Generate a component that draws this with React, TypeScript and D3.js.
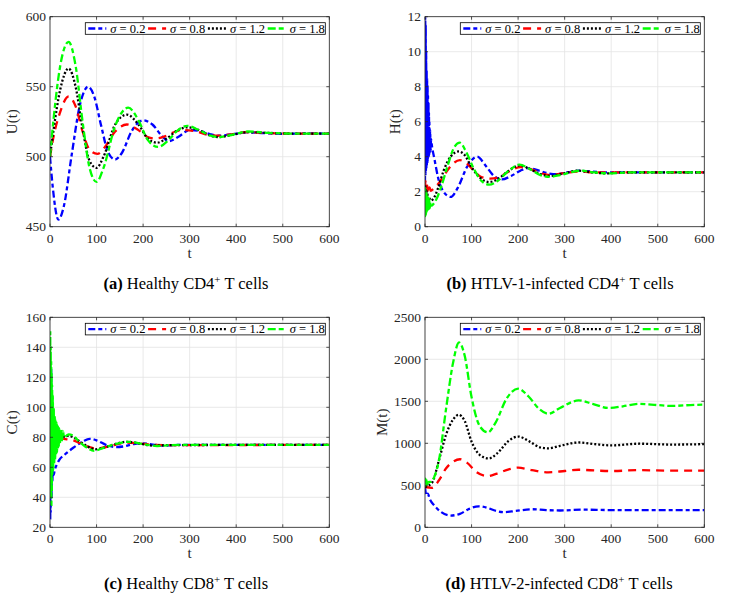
import * as React from "react";
import * as d3 from "d3";

type Pt = [number, number];

// sigma values for the four runs
const SIGMAS = ["0.2", "0.8", "1.2", "1.8"];
const X_TICKS = [0, 100, 200, 300, 400, 500, 600];

// (a) U(t)
const U_02: Pt[] = [[0, 500], [6, 478], [18, 455], [30, 465], [46, 500], [65, 538], [82, 550], [95, 543], [110, 522], [125, 503], [140, 498], [155, 503], [175, 518], [200, 526], [220, 523], [240, 515], [255, 511], [275, 514], [300, 519], [320, 518.5], [345, 516], [365, 515], [400, 516.5], [425, 517.5], [460, 516.8], [500, 516.3], [550, 516.6], [600, 516.5]];
const U_08: Pt[] = [[0, 500], [8, 515], [20, 530], [40, 543], [55, 536], [70, 518], [85, 505], [102, 502], [118, 507], [140, 518], [165, 523], [190, 519], [210, 514], [228, 513], [250, 515], [270, 518], [290, 519], [315, 518], [340, 515.5], [360, 515], [390, 516], [420, 517.5], [460, 517], [520, 516.5], [600, 516.5]];
const U_12: Pt[] = [[0, 500], [8, 520], [22, 548], [40, 563], [55, 550], [70, 520], [85, 497], [100, 492], [115, 500], [140, 523], [165, 530], [190, 523], [210, 513], [230, 510], [250, 513], [275, 519], [295, 521], [320, 519], [345, 515], [362, 514], [390, 515.5], [425, 517.5], [470, 517], [520, 516.5], [600, 516.5]];
const U_18: Pt[] = [[0, 500], [8, 528], [22, 565], [40, 582], [55, 565], [70, 525], [85, 492], [100, 482], [115, 492], [140, 522], [168, 535], [190, 526], [210, 512], [232, 507], [255, 512], [275, 519], [295, 522], [320, 519], [345, 515], [362, 514], [390, 515.5], [425, 518], [470, 517], [520, 516.5], [600, 516.5]];

// (b) H(t)
const H_02: Pt[] = [[0, 2.5], [0.5, 12], [1, 3], [1.5, 11.5], [2, 3.2], [2.5, 10], [3, 3.4], [3.5, 9], [4, 3.5], [4.5, 8.4], [5, 3.6], [5.5, 8], [6, 3.8], [6.5, 7.5], [7, 3.9], [7.5, 7], [8, 4], [8.5, 6.5], [9, 4.1], [9.5, 6], [10, 4.2], [11, 5.5], [12, 4.3], [13, 5], [15, 4.6], [20, 3.9], [30, 2.6], [40, 2], [55, 1.7], [70, 2.2], [90, 3.4], [112, 4], [130, 3.5], [148, 2.9], [165, 2.7], [185, 2.9], [205, 3.2], [222, 3.35], [245, 3.2], [265, 3.05], [282, 3.0], [305, 3.1], [330, 3.2], [360, 3.15], [400, 3.1], [450, 3.1], [600, 3.1]];
const H_08: Pt[] = [[0, 2.2], [1, 2.6], [2, 2], [3, 2.5], [4, 2.1], [5, 2.4], [6, 2.05], [7, 2.35], [8, 2.1], [10, 2.25], [12, 2.05], [15, 2.1], [20, 2.2], [30, 2.5], [45, 3.1], [60, 3.6], [75, 3.8], [90, 3.6], [105, 3.2], [120, 2.85], [140, 2.75], [160, 2.85], [180, 3.15], [205, 3.4], [225, 3.3], [250, 3.05], [270, 2.95], [295, 3.05], [330, 3.15], [370, 3.1], [600, 3.1]];
const H_12: Pt[] = [[0, 2], [1, 2.3], [2, 1.8], [3, 2.1], [4, 1.7], [5, 1.95], [6, 1.6], [8, 1.7], [12, 1.5], [18, 1.6], [28, 2.2], [40, 3.2], [55, 4], [73, 4.3], [85, 4.1], [100, 3.4], [118, 2.8], [138, 2.55], [155, 2.7], [180, 3.2], [203, 3.5], [225, 3.3], [248, 3.0], [268, 2.9], [290, 3.0], [330, 3.2], [360, 3.1], [390, 3.05], [430, 3.1], [600, 3.1]];
const H_18: Pt[] = [[0, 1.5], [0.5, 2.2], [1, 0.6], [1.5, 2.1], [2, 0.7], [2.5, 2], [3, 0.8], [3.5, 1.9], [4, 0.85], [5, 1.8], [6, 0.95], [7, 1.7], [8, 1.0], [9, 1.6], [10, 1.05], [12, 1.4], [14, 1.2], [18, 1.3], [25, 1.6], [35, 2.3], [50, 3.6], [62, 4.5], [75, 4.8], [88, 4.3], [105, 3.3], [122, 2.6], [138, 2.4], [155, 2.6], [180, 3.2], [203, 3.55], [225, 3.3], [248, 2.95], [268, 2.85], [290, 2.95], [335, 3.2], [365, 3.1], [395, 3.05], [440, 3.1], [600, 3.1]];

// (c) C(t)
const C_02: Pt[] = [[0, 70], [0.5, 25], [1, 60], [1.5, 30], [2, 90], [2.5, 125], [3, 70], [3.5, 40], [4, 75], [5, 50], [6, 60], [8, 55], [10, 58], [15, 62], [20, 65], [30, 68], [50, 73], [70, 77], [85, 79], [100, 78], [120, 75], [140, 73.5], [160, 74], [180, 75.5], [200, 76], [225, 75], [250, 74.5], [280, 75], [600, 75]];
const C_08: Pt[] = [[0, 75], [5, 78], [10, 80], [20, 80], [30, 79], [40, 78.5], [50, 78], [65, 76], [80, 74], [100, 72.5], [120, 73.5], [140, 75], [165, 76.5], [190, 76], [220, 75], [260, 74.8], [600, 75]];
const C_12: Pt[] = [[0, 75], [10, 79], [25, 80], [40, 81], [50, 80], [65, 77], [80, 74], [97, 72], [115, 73], [140, 75.5], [165, 77], [190, 76], [220, 74.5], [260, 74.8], [600, 75]];
const C_18: Pt[] = [[0, 90], [0.5, 150], [1, 50], [1.5, 140], [2, 40], [2.5, 130], [3, 35], [3.5, 122], [4, 45], [4.5, 115], [5, 55], [6, 108], [7, 58], [8, 100], [9, 62], [10, 95], [11, 65], [12, 92], [13, 68], [14, 90], [15, 70], [16, 88], [17, 72], [18, 87], [19, 74], [20, 86], [22, 76], [24, 85], [26, 78], [28, 84], [30, 80], [40, 82], [50, 81], [60, 78], [75, 74], [95, 71], [115, 73], [140, 75.5], [170, 77], [200, 75.5], [230, 74.2], [260, 74.8], [300, 75], [600, 75]];

// (d) M(t)
const M_02: Pt[] = [[0, 480], [3, 380], [6, 400], [10, 340], [20, 260], [35, 180], [55, 140], [75, 160], [95, 220], [115, 250], [135, 230], [150, 200], [170, 180], [195, 195], [230, 215], [260, 205], [290, 200], [340, 210], [400, 205], [600, 205]];
const M_08: Pt[] = [[0, 480], [15, 470], [30, 560], [45, 700], [60, 780], [75, 810], [90, 770], [110, 660], [135, 610], [155, 640], [180, 690], [200, 710], [230, 680], [265, 655], [300, 670], [330, 685], [370, 675], [400, 670], [460, 680], [530, 675], [600, 675]];
const M_12: Pt[] = [[0, 480], [15, 530], [30, 800], [45, 1100], [60, 1280], [72, 1340], [85, 1270], [100, 1020], [118, 860], [137, 820], [155, 880], [180, 1030], [200, 1080], [225, 1020], [248, 950], [265, 940], [290, 970], [330, 1010], [365, 990], [400, 975], [460, 995], [530, 985], [600, 990]];
const M_18: Pt[] = [[0, 520], [1, 580], [2, 500], [3, 570], [4, 510], [5, 560], [6, 520], [8, 540], [12, 540], [20, 600], [30, 800], [45, 1400], [60, 1950], [73, 2200], [85, 2050], [100, 1550], [118, 1200], [135, 1130], [152, 1250], [175, 1530], [200, 1650], [222, 1560], [245, 1410], [265, 1350], [290, 1420], [330, 1510], [360, 1470], [395, 1420], [425, 1440], [460, 1470], [500, 1455], [530, 1445], [570, 1455], [600, 1460]];

const STYLES = [
  { color: "#0000ff", dash: "7,3,4,3" },
  { color: "#ff0000", dash: "8,6" },
  { color: "#000000", dash: "2,2" },
  { color: "#00ff00", dash: "8,3,5,3" },
];

const AXIS = "#262626";
const FONT = "'Liberation Serif', 'Times New Roman', serif";
const PW = 279.3;
const PH = 210;

type Panel = {
  id: string;
  left: number;
  top: number;
  yDomain: [number, number];
  yTicks: number[];
  yLabel: string;
  yLabelDx: number;
  tag: string;
  caption: string;
  sup: string;
  captionX: number;
  series: Pt[][];
};

const PANELS: Panel[] = [
  { id: "a", left: 50, top: 16.7, yDomain: [450, 600], yTicks: [450, 500, 550, 600], yLabel: "U(t)", yLabelDx: -33, tag: "(a)", caption: " Healthy CD4", sup: " T cells", captionX: 186, series: [U_02, U_08, U_12, U_18] },
  { id: "b", left: 425, top: 16.7, yDomain: [0, 12], yTicks: [0, 2, 4, 6, 8, 10, 12], yLabel: "H(t)", yLabelDx: -25, tag: "(b)", caption: " HTLV-1-infected CD4", sup: " T cells", captionX: 560, series: [H_02, H_08, H_12, H_18] },
  { id: "c", left: 50, top: 317.3, yDomain: [20, 160], yTicks: [20, 40, 60, 80, 100, 120, 140, 160], yLabel: "C(t)", yLabelDx: -33, tag: "(c)", caption: " Healthy CD8", sup: " T cells", captionX: 186, series: [C_02, C_08, C_12, C_18] },
  { id: "d", left: 425, top: 317.3, yDomain: [0, 2500], yTicks: [0, 500, 1000, 1500, 2000, 2500], yLabel: "M(t)", yLabelDx: -38, tag: "(d)", caption: " HTLV-2-infected CD8", sup: " T cells", captionX: 559, series: [M_02, M_08, M_12, M_18] },
];

function PanelView({ p }: { p: Panel }) {
  const x = d3.scaleLinear().domain([0, 600]).range([p.left, p.left + PW]);
  const y = d3.scaleLinear().domain(p.yDomain).range([p.top + PH, p.top]);
  const line = d3
    .line<Pt>()
    .x((d) => x(d[0]))
    .y((d) => y(d[1]))
    .curve(d3.curveMonotoneX);
  const right = p.left + PW;
  const bottom = p.top + PH;
  const lgX1 = right - 4;
  const lgX0 = lgX1 - 240;
  const lgY0 = p.top + 6;
  const lgH = 11.6;
  const lgMid = lgY0 + lgH / 2;

  return (
    <g>
      <defs>
        <clipPath id={`clip-${p.id}`}>
          <rect x={p.left} y={p.top} width={PW} height={PH} />
        </clipPath>
      </defs>
      <rect x={p.left} y={p.top} width={PW} height={PH} fill="#fff" />
      {/* grid */}
      {X_TICKS.map((t) => (
        <line key={`gx${t}`} x1={x(t)} x2={x(t)} y1={p.top} y2={bottom} stroke="#e3e3e3" strokeWidth={0.8} />
      ))}
      {p.yTicks.map((t) => (
        <line key={`gy${t}`} x1={p.left} x2={right} y1={y(t)} y2={y(t)} stroke="#e3e3e3" strokeWidth={0.8} />
      ))}
      {/* series */}
      <g clipPath={`url(#clip-${p.id})`}>
        {p.series.map((s, i) => (
          <path key={i} d={line(s) ?? ""} fill="none" stroke={STYLES[i].color} strokeWidth={2.3} strokeDasharray={STYLES[i].dash} />
        ))}
      </g>
      {/* box + ticks */}
      <rect x={p.left} y={p.top} width={PW} height={PH} fill="none" stroke={AXIS} strokeWidth={0.8} />
      {X_TICKS.map((t) => (
        <g key={`tx${t}`}>
          <line x1={x(t)} x2={x(t)} y1={bottom} y2={bottom - 3} stroke={AXIS} strokeWidth={0.8} />
          <line x1={x(t)} x2={x(t)} y1={p.top} y2={p.top + 3} stroke={AXIS} strokeWidth={0.8} />
          <text x={x(t)} y={bottom + 16} textAnchor="middle" fontSize={13.5} fill={AXIS} fontFamily={FONT}>{t}</text>
        </g>
      ))}
      {p.yTicks.map((t) => (
        <g key={`ty${t}`}>
          <line x1={p.left} x2={p.left + 3} y1={y(t)} y2={y(t)} stroke={AXIS} strokeWidth={0.8} />
          <line x1={right} x2={right - 3} y1={y(t)} y2={y(t)} stroke={AXIS} strokeWidth={0.8} />
          <text x={p.left - 4} y={y(t) + 4.5} textAnchor="end" fontSize={13.5} fill={AXIS} fontFamily={FONT}>{t}</text>
        </g>
      ))}
      <text x={p.left + PW / 2} y={bottom + 31} textAnchor="middle" fontSize={15} fill={AXIS} fontFamily={FONT}>t</text>
      <text transform={`translate(${p.left + p.yLabelDx},${p.top + PH / 2}) rotate(-90)`} textAnchor="middle" fontSize={15} fill={AXIS} fontFamily={FONT}>{p.yLabel}</text>
      {/* legend */}
      <rect x={lgX0} y={lgY0} width={240} height={lgH} fill="#fff" stroke="#000" strokeWidth={0.8} />
      {SIGMAS.map((s, i) => {
        const ex = lgX0 + 3 + i * 59.8;
        return (
          <g key={`lg${s}`}>
            <line x1={ex} x2={ex + 18} y1={lgMid} y2={lgMid} stroke={STYLES[i].color} strokeWidth={2.3} strokeDasharray={STYLES[i].dash} />
            <text x={ex + 22} y={lgMid + 4} fontSize={12.5} fill="#000" fontFamily={FONT}>
              <tspan fontStyle="italic">σ</tspan> = {s}
            </text>
          </g>
        );
      })}
      {/* caption */}
      <text x={p.captionX} y={bottom + 62} textAnchor="middle" fontSize={16.5} fill="#000" fontFamily={FONT}>
        <tspan fontWeight="bold">{p.tag}</tspan>
        {p.caption}
        <tspan fontSize={11} dy={-6}>+</tspan>
        <tspan dy={6}>{p.sup}</tspan>
      </text>
    </g>
  );
}

export default function App() {
  return (
    <div style={{ position: "absolute", left: 0, top: 0, background: "#fff" }}>
      <svg width={737} height={603} style={{ display: "block" }}>
        <rect width={737} height={603} fill="#fff" />
        {PANELS.map((p) => (
          <PanelView key={p.id} p={p} />
        ))}
      </svg>
    </div>
  );
}
